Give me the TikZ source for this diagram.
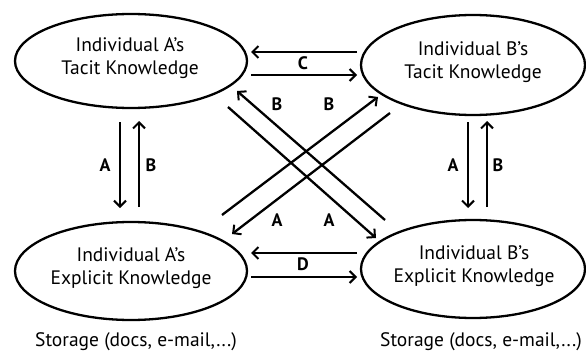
\documentclass[tikz,border=0pt]{standalone}
\usepackage{fontspec}
\setmainfont{PT Sans}
\usetikzlibrary{arrows.meta,calc}
\begin{document}
\begin{tikzpicture}[x=1pt,y=-1pt,
  rim/.style={line width=2.3pt},
  txt/.style={font=\fontsize{19.5}{23}\selectfont,align=center,inner sep=0pt},
  lbl/.style={font=\fontsize{18}{20}\selectfont\bfseries,inner sep=0pt},
  flow/.style={line width=2.3pt,-{Straight Barb[length=6pt,width=12pt,line width=2pt]}},
  store/.style={font=\fontsize{19.5}{22}\selectfont,inner sep=0pt}]
\useasboundingbox (0,0) rectangle (586,361);
% the four knowledge ellipses
\draw[rim] (131,61) ellipse [x radius=116, y radius=47];
\draw[rim] (473,65) ellipse [x radius=112, y radius=50];
\draw[rim] (131,271) ellipse [x radius=116, y radius=49];
\draw[rim] (473,269) ellipse [x radius=112, y radius=49];
\node[txt] (at) at (130,58) {Individual A's\\Tacit Knowledge};
\node[txt] (bt) at (473,62) {Individual B's\\Tacit Knowledge};
\node[txt] (ae) at (131,268) {Individual A's\\Explicit Knowledge};
\node[txt] (be) at (474,266) {Individual B's\\Explicit Knowledge};
% storage captions
\node[store] (as) at (136,342) {Storage (docs, e-mail,...)};
\node[store] (bs) at (481,342) {Storage (docs, e-mail,...)};
% arrow end points on the ellipse rims
\coordinate (c1) at (357,52);  \coordinate (c2) at (251,52);
\coordinate (c3) at (251,75);  \coordinate (c4) at (357,75);
\coordinate (d1) at (357,253); \coordinate (d2) at (251,253);
\coordinate (d3) at (251,277); \coordinate (d4) at (357,277);
\coordinate (la1) at (120,122); \coordinate (la2) at (120,208);
\coordinate (lb1) at (139,207); \coordinate (lb2) at (139,121);
\coordinate (ra1) at (468,122); \coordinate (ra2) at (468,208);
\coordinate (rb1) at (487,207); \coordinate (rb2) at (487,121);
\coordinate (x1) at (385,220); \coordinate (x2) at (237,91);
\coordinate (x3) at (228,107); \coordinate (x4) at (376,238);
\coordinate (x5) at (222,215); \coordinate (x6) at (378,97);
\coordinate (x7) at (390,113); \coordinate (x8) at (232,234);
% horizontal exchanges
\draw[flow] (c1) -- (c2);
\draw[flow] (c3) -- (c4);
\draw[flow] (d1) -- (d2);
\draw[flow] (d3) -- (d4);
\node[lbl] (lc) at (303,63) {C};
\node[lbl] (ld) at (303,264) {D};
% vertical exchanges
\draw[flow] (la1) -- (la2);
\draw[flow] (lb1) -- (lb2);
\draw[flow] (ra1) -- (ra2);
\draw[flow] (rb1) -- (rb2);
\node[lbl] (lva) at (105,165) {A};
\node[lbl] (lvb) at (151,165) {B};
\node[lbl] (rva) at (453,165) {A};
\node[lbl] (rvb) at (498,165) {B};
% diagonal exchanges
\draw[flow] (x1) -- (x2);
\draw[flow] (x3) -- (x4);
\draw[flow] (x5) -- (x6);
\draw[flow] (x7) -- (x8);
\node[lbl] (db1) at (277,104) {B};
\node[lbl] (db2) at (329,104) {B};
\node[lbl] (da1) at (277,220) {A};
\node[lbl] (da2) at (329,220) {A};
\end{tikzpicture}
\end{document}
